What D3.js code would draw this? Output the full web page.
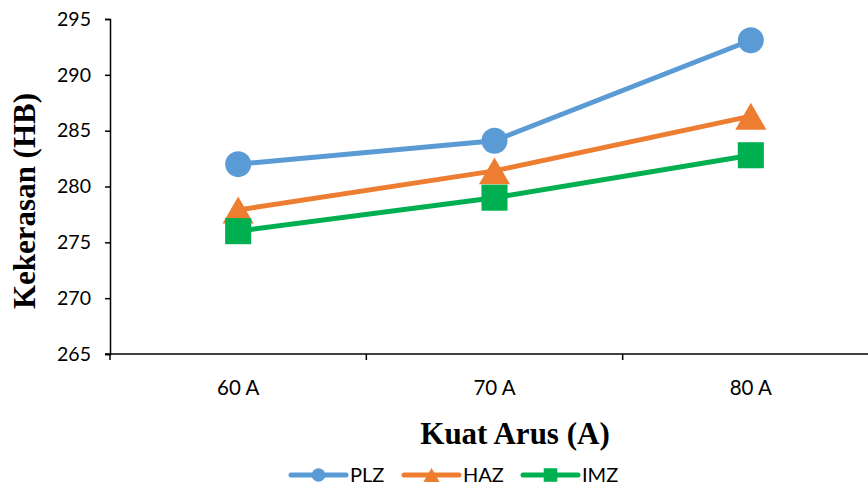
<!DOCTYPE html>
<html>
<head>
<meta charset="utf-8">
<script src="https://cdn.jsdelivr.net/npm/d3@7"></script>
<style>
  html, body { margin: 0; padding: 0; background: #fff; }
  svg { display: block; }
</style>
</head>
<body>
<svg id="chart" width="868" height="488"></svg>
<script>
// Hardness (HB) per welding current and zone
const categories = ["60 A", "70 A", "80 A"];
const plz = [282.0, 284.1, 293.1];
const haz = [277.9, 281.4, 286.3];
const imz = [276.0, 279.0, 282.8];
const yTicks = [265, 270, 275, 280, 285, 290, 295];

const series = [
  { name: "PLZ", values: plz, color: "#5B9BD5", symbol: d3.symbolCircle, size: 530 },
  { name: "HAZ", values: haz, color: "#ED7D31", symbol: d3.symbolTriangle, size: 420 },
  { name: "IMZ", values: imz, color: "#00B050", symbol: d3.symbolSquare, size: 680 }
];

// d3 centres triangles on their centroid; shift them so the box is centred on the point
function symbolOffset(s, size) {
  if (s.symbol !== d3.symbolTriangle) return 0;
  const side = Math.sqrt(4 * size / Math.sqrt(3));
  return side * Math.sqrt(3) / 2 / 6;
}

const svg = d3.select("#chart");
const plotLeft = 110, plotRight = 879, plotTop = 19, plotBottom = 354;
const labelFont = "Lato, 'Open Sans', sans-serif";
const titleFont = "'Liberation Serif', 'Times New Roman', serif";

const x = d3.scaleBand().domain(categories).range([plotLeft, plotRight]);
const y = d3.scaleLinear().domain([265, 295]).range([plotBottom, plotTop]);

// Y axis
const yAxis = svg.append("g")
  .attr("transform", `translate(${plotLeft},0)`)
  .call(d3.axisLeft(y).tickValues(yTicks).tickSize(5).tickPadding(14).tickFormat(d3.format("d")));
yAxis.select(".domain").attr("stroke", "#000").attr("stroke-width", 1.5);
yAxis.selectAll(".tick line").attr("stroke", "#000").attr("stroke-width", 1.5);
yAxis.selectAll(".tick text")
  .attr("font-family", labelFont)
  .attr("font-size", 19.5).attr("fill", "#000");

// X axis with ticks on category boundaries
const xAxisG = svg.append("g").attr("transform", `translate(0,${plotBottom})`);
xAxisG.append("line")
  .attr("x1", plotLeft - 5).attr("x2", plotRight).attr("stroke", "#000").attr("stroke-width", 1.5);
const bounds = categories.map(c => x(c)).concat([x(categories[categories.length - 1]) + x.bandwidth()]);
xAxisG.selectAll("line.tk").data(bounds).join("line").attr("class", "tk")
  .attr("x1", d => d).attr("x2", d => d).attr("y1", 0).attr("y2", 6)
  .attr("stroke", "#000").attr("stroke-width", 1.5);
xAxisG.selectAll("text").data(categories).join("text")
  .attr("x", d => x(d) + x.bandwidth() / 2).attr("y", 41)
  .attr("text-anchor", "middle")
  .attr("font-family", labelFont)
  .attr("font-size", 20.5).attr("fill", "#000")
  .text(d => d);

// Axis titles
svg.append("text")
  .attr("x", 515).attr("y", 444)
  .attr("text-anchor", "middle")
  .attr("font-family", titleFont)
  .attr("font-weight", "bold").attr("font-size", 31)
  .text("Kuat Arus (A)");
svg.append("text")
  .attr("transform", "translate(35,201) rotate(-90)")
  .attr("text-anchor", "middle")
  .attr("font-family", titleFont)
  .attr("font-weight", "bold").attr("font-size", 31)
  .text("Kekerasan (HB)");

// Lines and markers
const line = d3.line()
  .x((d, i) => x(categories[i]) + x.bandwidth() / 2)
  .y(d => y(d));

series.forEach(s => {
  svg.append("path")
    .datum(s.values)
    .attr("d", line)
    .attr("fill", "none")
    .attr("stroke", s.color)
    .attr("stroke-width", 5)
    .attr("stroke-linejoin", "round");
});
series.forEach(s => {
  const dy = symbolOffset(s, s.size);
  svg.append("g").selectAll("path").data(s.values).join("path")
    .attr("transform", (d, i) => `translate(${x(categories[i]) + x.bandwidth() / 2},${y(d) + dy})`)
    .attr("d", d3.symbol().type(s.symbol).size(s.size))
    .attr("fill", s.color);
});

// Legend
const legendX = [291, 404, 523];
const legend = svg.append("g");
series.forEach((s, i) => {
  const size = s.size * 0.27;
  const g = legend.append("g").attr("transform", `translate(${legendX[i]},475)`);
  g.append("line").attr("x1", 0).attr("x2", 55)
    .attr("stroke", s.color).attr("stroke-width", 5).attr("stroke-linecap", "round");
  g.append("path").attr("transform", `translate(27.5,${symbolOffset(s, size)})`)
    .attr("d", d3.symbol().type(s.symbol).size(size))
    .attr("fill", s.color);
  g.append("text").attr("x", 59).attr("y", 7)
    .attr("font-family", labelFont)
    .attr("font-size", 20).attr("fill", "#000")
    .text(s.name);
});
</script>
</body>
</html>
